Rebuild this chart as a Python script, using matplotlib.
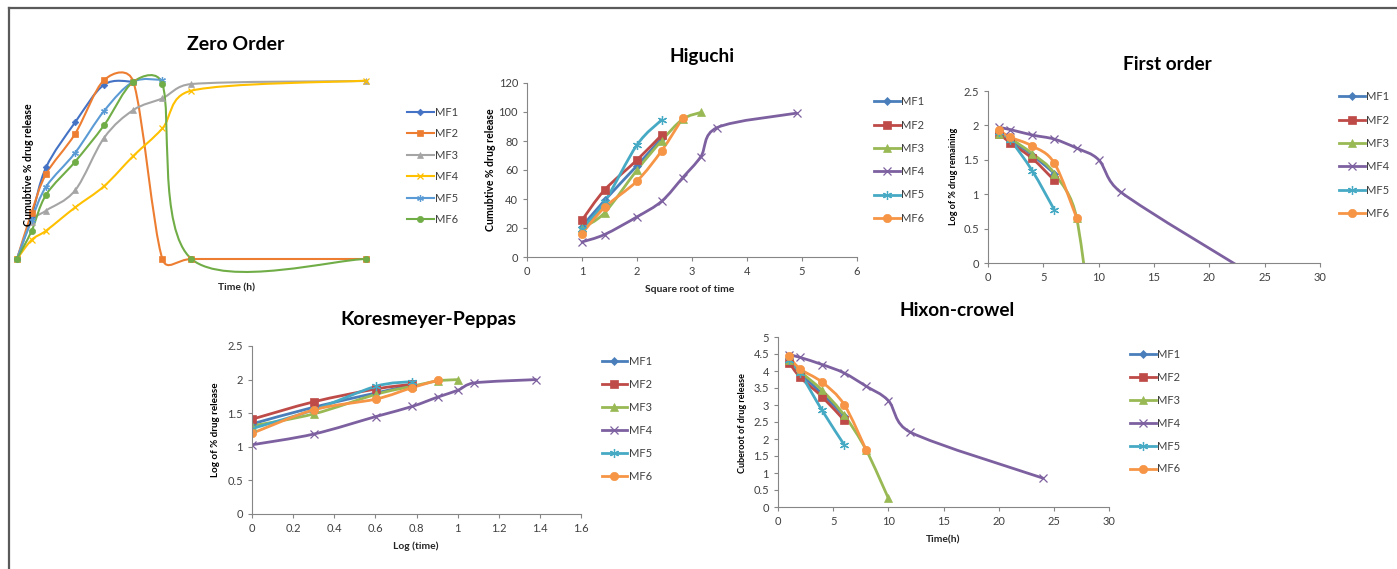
import numpy as np
import matplotlib
matplotlib.use("Agg")
import matplotlib.pyplot as plt
from matplotlib.path import Path
from matplotlib.patches import PathPatch
from matplotlib.lines import Line2D
from matplotlib.ticker import FuncFormatter

W, H = 1397, 569
LABELS = ["MF1", "MF2", "MF3", "MF4", "MF5", "MF6"]

# Zero order (time in h, cumulative % released)
zero_time = [0, 1, 2, 4, 6, 8, 10, 12, 24]
zero_mf1 = [0, 24, 51.5, 76.8, 98, 99.6]
zero_mf2 = [0, 26, 47.8, 70.4, 100.6, 99.6, 0, 0, 0]
zero_mf3 = [0, 21, 27.2, 38.6, 68.2, 83.7, 90.3, 98.3, 100]
zero_mf4 = [0, 10.7, 15.9, 29, 41, 57.9, 73.4, 94.6, 100.2]
zero_mf5 = [0, 22, 40.6, 59.7, 83.3, 99.6, 100.6]
zero_mf6 = [0, 15.7, 36.1, 54.7, 75.3, 99.6, 98.3, 0, 0]

# Higuchi (square root of time)
hig_x = [1, 1.41, 2, 2.45, 2.83, 3.16, 3.46, 4.9]
hig_mf1 = [21, 39, 63, 82]
hig_mf2 = [25.4, 46.2, 66.9, 84.2]
hig_mf3 = [20, 30.5, 60, 80.3, 95, 99.7]
hig_mf4 = [10.4, 15.5, 27.7, 38.5, 54.7, 69.2, 89.3, 99.2]
hig_mf5 = [19.6, 38, 77.3, 94.6]
hig_mf6 = [16.2, 34.2, 52.4, 73.4, 95.8]

# First order (time in h, log % remaining)
fo_time = [1, 2, 4, 6, 8, 10, 12, 24]
fo_mf1 = [1.89, 1.79, 1.57, 1.30]
fo_mf2 = [1.88, 1.75, 1.52, 1.20]
fo_mf3 = [1.88, 1.81, 1.59, 1.30, 0.66, -1.8]
fo_mf4 = [1.97, 1.94, 1.86, 1.80, 1.67, 1.50, 1.03, -0.18]
fo_mf5 = [1.91, 1.79, 1.34, 0.77]
fo_mf6 = [1.93, 1.83, 1.70, 1.45, 0.66]

# Korsmeyer-Peppas (log time, log % released)
kp_x = [0, 0.301, 0.602, 0.778, 0.903, 1.0, 1.079, 1.38]
kp_mf1 = [1.34, 1.59, 1.80, 1.92]
kp_mf2 = [1.41, 1.67, 1.86, 1.93]
kp_mf3 = [1.31, 1.49, 1.78, 1.90, 1.98, 2.00]
kp_mf4 = [1.03, 1.19, 1.45, 1.60, 1.74, 1.84, 1.95, 2.00]
kp_mf5 = [1.27, 1.55, 1.90, 1.97]
kp_mf6 = [1.20, 1.55, 1.71, 1.88, 1.99]

# Hixson-Crowell (time in h, cube root)
hc_time = [1, 2, 4, 6, 8, 10, 12, 24]
hc_mf1 = [4.27, 3.93, 3.33, 2.68]
hc_mf2 = [4.25, 3.82, 3.24, 2.55]
hc_mf3 = [4.31, 3.99, 3.43, 2.70, 1.67, 0.26]
hc_mf4 = [4.48, 4.40, 4.19, 3.94, 3.55, 3.13, 2.20, 0.85]
hc_mf5 = [4.33, 3.94, 2.84, 1.83]
hc_mf6 = [4.43, 4.06, 3.67, 3.01, 1.67]

ZERO_COLORS = ["#4472C4", "#ED7D31", "#A5A5A5", "#FFC000", "#5B9BD5", "#70AD47"]
XL_COLORS = ["#4A7EBB", "#BE4B48", "#98B954", "#7D60A0", "#46AAC5", "#F69545"]
MARKERS = ["D", "s", "^", "x", (6, 2, 0), "o"]
MSIZES = [4.5, 5.5, 6, 6, 6.5, 6]

plt.rcParams["font.family"] = ["Lato", "DejaVu Sans"]


def fx(x):
    return x / W


def fy(y):
    return 1 - y / H


def px_rect(left, top, right, bottom):
    return [left / W, 1 - bottom / H, (right - left) / W, (bottom - top) / H]


def smooth_path(ax, x, y):
    """Excel-like smoothed line: Catmull-Rom bezier, handles capped at half a segment."""
    pts = ax.transData.transform(np.column_stack([x, y]))
    n = len(pts)
    verts = [pts[0]]
    codes = [Path.MOVETO]
    for i in range(n - 1):
        p0, p1 = pts[max(i - 1, 0)], pts[i]
        p2, p3 = pts[i + 1], pts[min(i + 2, n - 1)]
        seg = np.hypot(*(p2 - p1))
        d1 = (p2 - p0) / 6
        d2 = (p3 - p1) / 6
        for d in (d1, d2):
            L = np.hypot(*d)
            if L > seg / 2:
                d *= (seg / 2) / L
        verts += [p1 + d1, p2 - d2, p2]
        codes += [Path.CURVE4] * 3
    verts = ax.transData.inverted().transform(np.array(verts))
    return Path(verts, codes)


def draw_series(ax, xs, series, colors, lw, msize_scale, clip=True):
    handles = []
    for i, y in enumerate(series):
        x = xs[:len(y)]
        ax.add_patch(PathPatch(smooth_path(ax, x, y), fill=False, edgecolor=colors[i],
                               lw=lw, clip_on=clip, capstyle="round", joinstyle="round"))
        mk = dict(marker=MARKERS[i], markersize=MSIZES[i] * msize_scale, color=colors[i],
                  markeredgewidth=0.9 if MARKERS[i] in ("x", (6, 2, 0)) else 0.5)
        ax.plot(x, y, ls="none", clip_on=clip, **mk)
        handles.append(Line2D([], [], lw=lw, **mk))
    return handles


def style_axes(ax, xlim, ylim, xticks, yticks):
    ax.set_xlim(*xlim)
    ax.set_ylim(*ylim)
    ax.set_xticks(xticks)
    ax.set_yticks(yticks)
    fmt = FuncFormatter(lambda v, p: f"{v:g}")
    ax.xaxis.set_major_formatter(fmt)
    ax.yaxis.set_major_formatter(fmt)
    for s in ("top", "right"):
        ax.spines[s].set_visible(False)
    for s in ("left", "bottom"):
        ax.spines[s].set_color("#868686")
        ax.spines[s].set_linewidth(0.8)
    ax.tick_params(direction="out", length=3, width=0.8, color="#868686",
                   labelsize=8, labelcolor="#404040", pad=3.5)
    ax.patch.set_alpha(0)


def add_legend(ax, handles, x, y_center, pitch, fs=8, hl=2.3):
    fs_px = fs * 100 / 72
    text_h = fs_px * 0.98
    ax.legend(handles, LABELS, loc="upper left", frameon=False, fontsize=fs,
              bbox_to_anchor=(fx(x), fy(y_center - text_h / 2)), bbox_transform=ax.figure.transFigure,
              borderpad=0, borderaxespad=0, handlelength=hl, handletextpad=0.15,
              labelspacing=(pitch - text_h) / fs_px, labelcolor="#404040")


def add_texts(fig, title, tpos, tsize, ylabel, ypos, ysize, xlabel=None, xpos=None, xsize=7.4):
    fig.text(fx(tpos[0]), fy(tpos[1]), title, ha="center", va="center",
             fontsize=tsize, fontweight="bold")
    fig.text(fx(ypos[0]), fy(ypos[1]), ylabel, ha="center", va="center",
             rotation=90, fontsize=ysize, fontweight="bold")
    if xlabel:
        fig.text(fx(xpos[0]), fy(xpos[1]), xlabel, ha="center", va="center",
                 fontsize=xsize, fontweight="bold", color="#262626")


fig = plt.figure(figsize=(W / 100, H / 100), dpi=100)

# frame
fig.add_artist(Line2D([fx(9), 1], [fy(8), fy(8)], color="#5a5a5a", lw=1.6, transform=fig.transFigure))
fig.add_artist(Line2D([fx(9), fx(9)], [fy(8), 0], color="#5a5a5a", lw=1.6, transform=fig.transFigure))

# Zero order
ax0 = fig.add_axes(px_rect(17, 81, 366, 259))
ax0.set_xlim(0, 24)
ax0.set_ylim(0, 100)
ax0.axis("off")
h = draw_series(ax0, zero_time, [zero_mf1, zero_mf2, zero_mf3, zero_mf4, zero_mf5, zero_mf6],
                ZERO_COLORS, 1.5, 0.75, clip=False)
add_legend(ax0, h, 407, 112, 21.4, hl=2.4)
add_texts(fig, "Zero Order", (236, 44), 14, "Cumubtive % drug release", (28, 165), 7.6,
          "Time (h)", (236, 288))

# Higuchi
ax1 = fig.add_axes(px_rect(527, 83, 857, 257))
style_axes(ax1, (0, 6), (0, 120), range(0, 7), range(0, 121, 20))
h = draw_series(ax1, hig_x, [hig_mf1, hig_mf2, hig_mf3, hig_mf4, hig_mf5, hig_mf6], XL_COLORS, 2.0, 1.0)
add_legend(ax1, h, 874, 101.7, 23.2)
add_texts(fig, "Higuchi", (701.7, 56.7), 13.7, "Cumubtive % drug release", (490, 170), 7.6,
          "Square root of time", (690, 290))

# First order
ax2 = fig.add_axes(px_rect(988, 91, 1320, 263))
style_axes(ax2, (0, 30), (0, 2.5), range(0, 31, 5), np.arange(0, 2.51, 0.5))
h = draw_series(ax2, fo_time, [fo_mf1, fo_mf2, fo_mf3, fo_mf4, fo_mf5, fo_mf6], XL_COLORS, 2.0, 1.0)
add_legend(ax2, h, 1339, 96.7, 23.2)
add_texts(fig, "First order", (1167.7, 64), 13.7, "Log of % drug remaining", (953.3, 176.7), 6.5)

# Korsmeyer-Peppas
ax3 = fig.add_axes(px_rect(252, 346, 581, 514))
style_axes(ax3, (0, 1.6), (0, 2.5), np.arange(0, 1.61, 0.2), np.arange(0, 2.51, 0.5))
h = draw_series(ax3, kp_x, [kp_mf1, kp_mf2, kp_mf3, kp_mf4, kp_mf5, kp_mf6], XL_COLORS, 2.0, 1.0)
add_legend(ax3, h, 601.7, 361.7, 22.9)
add_texts(fig, "Koresmeyer-Peppas", (428.3, 320), 14, "Log of % drug release", (216, 430), 7.1,
          "Log (time)", (416, 546.7))

# Hixson-Crowell
ax4 = fig.add_axes(px_rect(778, 337, 1109, 507))
style_axes(ax4, (0, 30), (0, 5), range(0, 31, 5), np.arange(0, 5.01, 0.5))
h = draw_series(ax4, hc_time, [hc_mf1, hc_mf2, hc_mf3, hc_mf4, hc_mf5, hc_mf6], XL_COLORS, 2.0, 1.0)
add_legend(ax4, h, 1130, 354.3, 22.8)
add_texts(fig, "Hixon-crowel", (956.7, 310.7), 13.7, "Cuberoot of drug release", (742.7, 423.3), 6.5,
          "Time(h)", (943.3, 540))

fig.savefig("out.png", dpi=100)
